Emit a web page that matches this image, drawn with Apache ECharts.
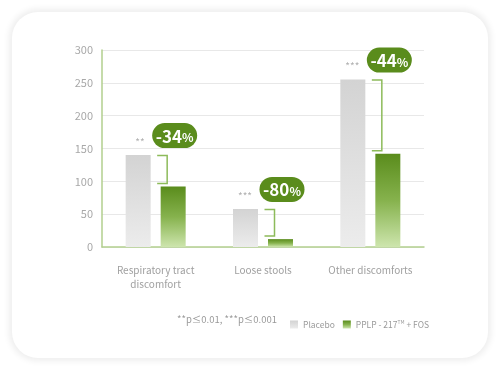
<!DOCTYPE html>
<html><head><meta charset="utf-8">
<script src="https://cdn.jsdelivr.net/npm/echarts@6/dist/echarts.min.js"></script>
<style>html,body{margin:0;padding:0;background:#fff;}
#card{position:absolute;left:12px;top:12px;width:476px;height:346px;border-radius:26px;background:#fff;box-shadow:0 0 6px 3px rgba(0,0,0,0.07);}
#c{position:absolute;left:0;top:0;width:500px;height:371px;}</style>
</head><body><div id="card"></div><div id="c"></div>
<script>
var categories = ['Respiratory tract\ndiscomfort', 'Loose stools', 'Other discomforts'];
var placebo = [140, 58, 255];
var fos = [92, 12, 142];
var reductions = ['-34', '-80', '-44'];
var stars = ['**', '***', '***'];
var yTicks = [0, 50, 100, 150, 200, 250, 300];
var seriesNames = ['Placebo', 'PPLP - 217\u2122 + FOS'];

var chart = echarts.init(document.getElementById('c'), null, {renderer: 'canvas'});
var FONT = '"Noto Sans CJK KR", "Noto Sans", sans-serif';
var BW = 25, GAP = 10;

var annot = categories.map(function (c, i) { return [i, placebo[i], fos[i], reductions[i], stars[i]]; });

chart.setOption({
  animation: false,
  grid: {left: 102, right: 76, top: 50, bottom: 124},
  xAxis: {
    type: 'category', data: categories,
    axisLine: {lineStyle: {color: '#b2cf8e', width: 1.5}},
    axisTick: {show: false},
    axisLabel: {interval: 0, color: '#a0a0a0', fontSize: 10, fontFamily: FONT, margin: 16, lineHeight: 14}
  },
  yAxis: {
    type: 'value', min: yTicks[0], max: yTicks[yTicks.length - 1], interval: 50,
    axisLine: {show: true, lineStyle: {color: '#b2cf8e', width: 1.5}},
    axisTick: {show: false},
    axisLabel: {color: '#a8a8a8', fontSize: 11, fontFamily: FONT, margin: 9},
    splitLine: {lineStyle: {color: '#e8e8e8'}}
  },
  legend: {
    left: 285, top: 315, itemWidth: 8, itemHeight: 8, itemGap: 8, icon: 'rect',
    textStyle: {color: '#9a9a9a', fontSize: 8.5, fontFamily: FONT,
      rich: {n: {color: '#9a9a9a', fontSize: 8.5, fontFamily: FONT},
             s: {color: '#9a9a9a', fontSize: 5, fontFamily: FONT, verticalAlign: 'top', padding: [0, 0, 4, 0]}}},
    formatter: function (name) {
      if (name.indexOf('\u2122') >= 0) {
        var parts = name.split('\u2122');
        return '{n|' + parts[0] + '}{s|TM}{n|' + parts[1] + '}';
      }
      return '{n|' + name + '}';
    },
    data: seriesNames
  },
  graphic: [{
    type: 'text', right: 223, top: 315,
    style: {text: '**p\u22640.01, ***p\u22640.001', fill: '#9a9a9a', font: '9.5px ' + FONT}
  }],
  series: [{
    name: seriesNames[0], type: 'bar', data: placebo, barWidth: BW, barGap: (GAP / BW * 100) + '%',
    itemStyle: {color: new echarts.graphic.LinearGradient(0, 0, 0, 1, [
      {offset: 0, color: '#d3d3d3'}, {offset: 1, color: '#ececec'}])}
  }, {
    name: seriesNames[1], type: 'bar', data: fos, barWidth: BW,
    itemStyle: {color: new echarts.graphic.LinearGradient(0, 0, 0, 1, [
      {offset: 0, color: '#5a8c1c'}, {offset: 0.5, color: '#86b24d'}, {offset: 1, color: '#cde5ad'}])}
  }, {
    type: 'custom', data: annot, z: 10,
    renderItem: function (params, api) {
      var i = api.value(0);
      var pTop = api.coord([i, api.value(1)]);
      var gTop = api.coord([i, api.value(2)]);
      var cx = pTop[0];
      var gLeft = cx + GAP / 2;
      var gCenter = gLeft + BW / 2;
      var vx = gLeft + 6.5, hx = vx - 10;
      var y1 = pTop[1] + 0.5, y2 = gTop[1] - 3;
      var pcx = gCenter + 1.5, pcy = pTop[1] - 19.5;
      return {type: 'group', children: [
        {type: 'polyline', shape: {points: [[hx, y1], [vx, y1], [vx, y2], [hx, y2]]},
          style: {stroke: '#8dbb5a', lineWidth: 1.5, fill: null}},
        {type: 'rect', shape: {x: pcx - 22.5, y: pcy - 12.5, width: 45, height: 25, r: 12.5},
          style: {fill: '#5a8c1c'}},
        {type: 'text', x: pcx, y: pcy + 0.5,
          style: {text: '{a|' + api.value(3) + '}{b|%}', align: 'center', verticalAlign: 'middle',
            rich: {a: {fill: '#fff', fontSize: 17, fontWeight: 'bold', fontFamily: FONT},
                   b: {fill: '#fff', fontSize: 12, fontWeight: 'bold', fontFamily: FONT, padding: [3, 0, 0, 0]}}}},
        {type: 'text', x: pcx - 30, y: pTop[1] - 13,
          style: {text: api.value(4), align: 'right', verticalAlign: 'middle', fill: '#b0b0b0', font: '10px ' + FONT}}
      ]};
    }
  }]
});
</script></body></html>
